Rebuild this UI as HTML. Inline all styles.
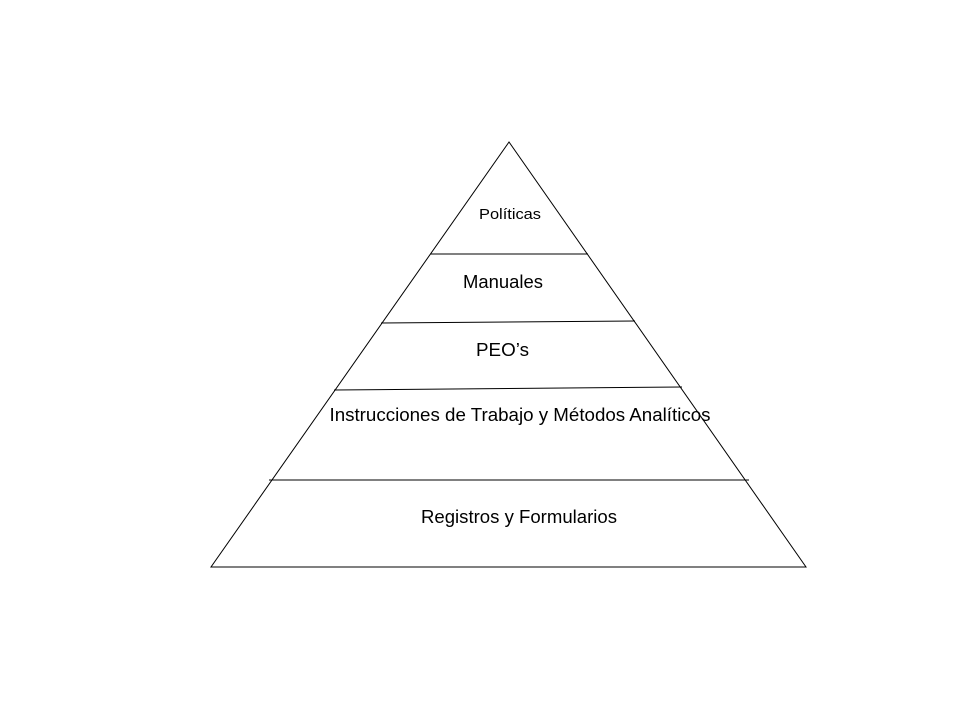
<!DOCTYPE html>
<html><head><meta charset="utf-8"><style>
html,body{margin:0;padding:0;background:#fff;}
svg{display:block;}
text{font-family:"Liberation Sans",Arial,sans-serif;fill:#000;text-anchor:middle;}
</style></head><body>
<svg width="960" height="720" viewBox="0 0 960 720" xmlns="http://www.w3.org/2000/svg">
<rect width="960" height="720" fill="#fff"/>
<polygon points="509,142 211,567 806,567" fill="none" stroke="#000" stroke-width="1"/>
<line x1="430" y1="254" x2="588" y2="254" stroke="#000" stroke-width="1"/>
<line x1="381" y1="323" x2="635" y2="321" stroke="#000" stroke-width="1"/>
<line x1="334" y1="390" x2="682" y2="387" stroke="#000" stroke-width="1"/>
<line x1="269" y1="480" x2="749" y2="480" stroke="#000" stroke-width="1"/>
<text x="510" y="219" font-size="15" textLength="62" lengthAdjust="spacingAndGlyphs">Políticas</text>
<text x="503" y="288" font-size="18" textLength="80" lengthAdjust="spacingAndGlyphs">Manuales</text>
<text x="502.5" y="356" font-size="18" textLength="53" lengthAdjust="spacingAndGlyphs">PEO’s</text>
<text x="520" y="421" font-size="18" textLength="381" lengthAdjust="spacingAndGlyphs">Instrucciones de Trabajo y Métodos Analíticos</text>
<text x="519" y="523" font-size="18" textLength="196" lengthAdjust="spacingAndGlyphs">Registros y Formularios</text>
</svg>
</body></html>
